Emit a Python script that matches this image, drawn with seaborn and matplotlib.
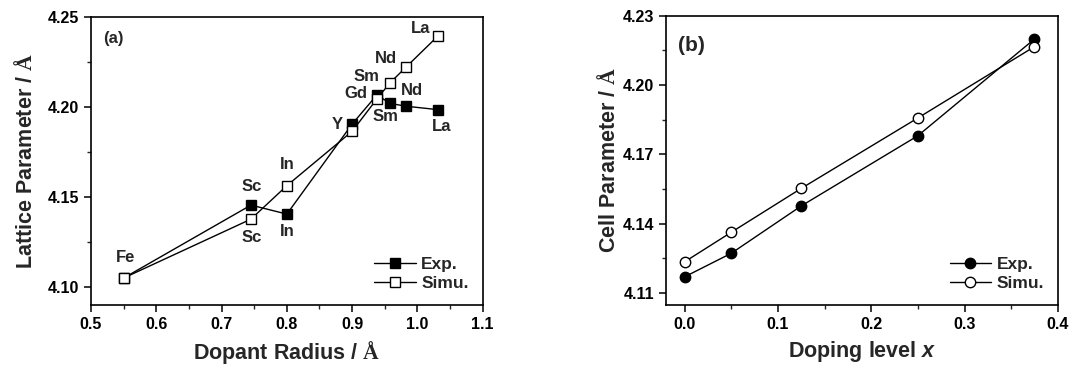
import matplotlib
matplotlib.use("Agg")
import matplotlib.pyplot as plt
from matplotlib.ticker import MultipleLocator, FormatStrFormatter
import seaborn as sns
import pandas as pd

# Panel (a): lattice parameter vs dopant ionic radius
dopants = ["Fe", "Sc", "In", "Y", "Gd", "Sm", "Nd", "La"]
radius = [0.55, 0.745, 0.80, 0.90, 0.938, 0.958, 0.983, 1.032]
lattice_exp = [4.105, 4.1455, 4.1405, 4.1905, 4.2067, 4.2020, 4.2004, 4.1985]
lattice_sim = [4.105, 4.1377, 4.1563, 4.1865, 4.2045, 4.2134, 4.2223, 4.2396]

# Panel (b): cell parameter vs doping level
doping = [0.0, 0.05, 0.125, 0.25, 0.375]
cell_exp = [4.1169, 4.1271, 4.1476, 4.1780, 4.2199]
cell_sim = [4.1234, 4.1362, 4.1552, 4.1857, 4.2166]

sns.set_theme(style="ticks")
plt.rcParams["font.family"] = ["Liberation Sans", "DejaVu Sans"]
plt.rcParams["font.weight"] = "bold"
plt.rcParams["mathtext.fontset"] = "custom"
plt.rcParams["mathtext.rm"] = "Liberation Serif"
plt.rcParams["mathtext.it"] = "Liberation Sans:bold:italic"

df_a = pd.DataFrame({"r": radius, "exp": lattice_exp, "sim": lattice_sim})
df_b = pd.DataFrame({"x": doping, "exp": cell_exp, "sim": cell_sim})

fig = plt.figure(figsize=(10.75, 3.69), dpi=100)
ax1 = fig.add_axes([0.0847, 0.1734, 0.3643, 0.7806])
ax2 = fig.add_axes([0.6195, 0.1734, 0.3645, 0.7841])

line_kw = dict(color="black", linewidth=1.0, markersize=7.5, markeredgewidth=1.0,
               markeredgecolor="black")

sns.lineplot(data=df_a, x="r", y="exp", ax=ax1, marker="s", markerfacecolor="black",
             label="Exp.", **line_kw)
sns.lineplot(data=df_a, x="r", y="sim", ax=ax1, marker="s", markerfacecolor="white",
             label="Simu.", **line_kw)

sns.lineplot(data=df_b, x="x", y="exp", ax=ax2, marker="o", markerfacecolor="black",
             label="Exp.", **line_kw)
sns.lineplot(data=df_b, x="x", y="sim", ax=ax2, marker="o", markerfacecolor="white",
             label="Simu.", **line_kw)

# element labels next to each point (pixel offsets)
exp_offsets = {"Fe": (2, 21), "Sc": (1, 19), "In": (0, -17), "Y": (-15, 0),
               "Gd": (-21, 1), "Sm": (-5, -13), "Nd": (6, 16), "La": (3, -17)}
sim_offsets = {"Sc": (1, -18), "In": (0, 21), "Sm": (-24, 6), "Nd": (-20, 8),
               "La": (-18, 7)}
for name, r, v in zip(dopants, radius, lattice_exp):
    if name in exp_offsets:
        ax1.annotate(name, (r, v), xytext=exp_offsets[name], textcoords="offset pixels",
                     ha="center", va="center", fontsize=12, fontweight="bold")
for name, r, v in zip(dopants, radius, lattice_sim):
    if name in sim_offsets:
        ax1.annotate(name, (r, v), xytext=sim_offsets[name], textcoords="offset pixels",
                     ha="center", va="center", fontsize=12, fontweight="bold")

ax1.set_xlim(0.5, 1.1)
ax1.set_ylim(4.09, 4.25)
ax1.xaxis.set_major_locator(MultipleLocator(0.1))
ax1.xaxis.set_minor_locator(MultipleLocator(0.05))
ax1.yaxis.set_major_locator(MultipleLocator(0.05))
ax1.yaxis.set_minor_locator(MultipleLocator(0.025))
ax1.xaxis.set_major_formatter(FormatStrFormatter("%.1f"))
ax1.yaxis.set_major_formatter(FormatStrFormatter("%.2f"))
ax1.set_xlabel("Dopant Radius / $\\mathrm{\\AA}$", fontsize=15.5, fontweight="bold",
               labelpad=5)
ax1.set_ylabel("Lattice Parameter / $\\mathrm{\\AA}$", fontsize=15.5, fontweight="bold",
               labelpad=8)
ax1.text(0.03, 0.95, "(a)", transform=ax1.transAxes, fontsize=12, fontweight="bold",
         ha="left", va="top")

ax2.set_xlim(-0.02, 0.4)
ax2.set_ylim(4.1047, 4.23)
ax2.xaxis.set_major_locator(MultipleLocator(0.1))
ax2.xaxis.set_minor_locator(MultipleLocator(0.05))
ax2.yaxis.set_major_locator(MultipleLocator(0.03))
ax2.yaxis.set_minor_locator(MultipleLocator(0.015))
ax2.xaxis.set_major_formatter(FormatStrFormatter("%.1f"))
ax2.yaxis.set_major_formatter(FormatStrFormatter("%.2f"))
ax2.set_xlabel("Doping level $x$", fontsize=15.5, fontweight="bold", labelpad=5)
ax2.set_ylabel("Cell Parameter / $\\mathrm{\\AA}$", fontsize=15.5, fontweight="bold",
               labelpad=2)
ax2.text(0.03, 0.93, "(b)", transform=ax2.transAxes, fontsize=15, fontweight="bold",
         ha="left", va="top")

for ax in (ax1, ax2):
    for s in ax.spines.values():
        s.set_linewidth(1.2)
        s.set_color("black")
    ax.tick_params(which="major", direction="out", length=5, width=1.1, labelsize=11.5,
                   colors="black", top=False, right=False)
    ax.tick_params(which="minor", direction="out", length=3, width=1.0,
                   top=False, right=False)
    for lab in ax.get_xticklabels() + ax.get_yticklabels():
        lab.set_fontweight("bold")
    ax.legend(loc="lower right", frameon=False, fontsize=12.5, handlelength=2.4,
              handletextpad=0.3, labelspacing=0.25, borderaxespad=0.4)
    for t in ax.get_legend().get_texts():
        t.set_fontweight("bold")

fig.savefig("out.png", dpi=100)
